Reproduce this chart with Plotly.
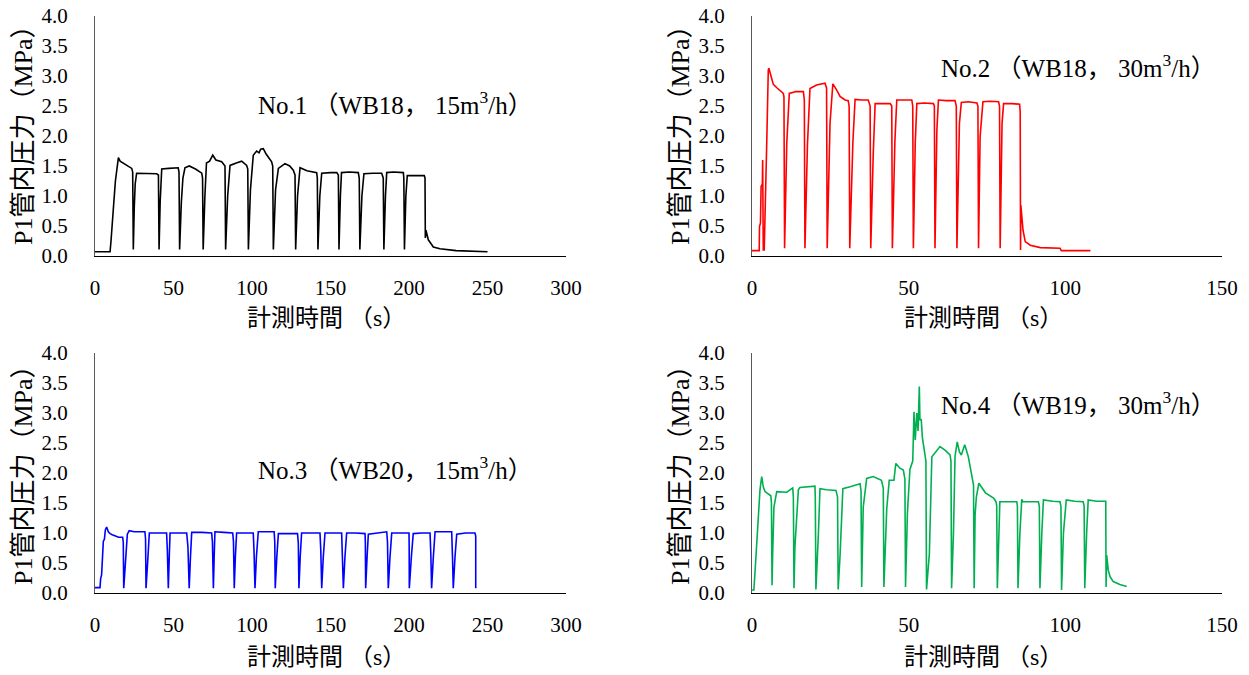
import plotly.graph_objects as go

# ---------------- data ----------------
t1 = [0, 9.6, 10.2, 11, 12, 13, 14.2, 14.9, 16, 18, 21, 23.4,
      24, 24.4, 25, 25.6, 26.5, 30, 34, 39.3,
      40.4, 40.8, 41.5, 42.5, 47, 53,
      53.5, 53.9, 55, 56, 57.3, 60, 64, 68,
      68.5, 68.9, 70, 71, 73, 75, 77, 80.7,
      82.8, 83.2, 84.5, 86, 90, 93.4, 96.6,
      97.3, 97.7, 99, 100.8, 103, 104.5, 105.5, 107.2, 109, 112.5,
      113.2, 113.6, 115, 116.8, 119, 121, 124, 126.3,
      127.4, 127.8, 129, 130.6, 135, 141.2,
      141.6, 142, 143.2, 144.4, 150, 154,
      155, 155.4, 156.3, 157, 162, 167.7,
      168.3, 168.7, 170, 171.3, 177, 182.6,
      183.6, 184, 185, 185.8, 190, 196.4,
      196.7, 197.1, 198, 198.9, 204, 209.7,
      210.2, 210.4, 210.8, 212.3, 215.5, 219.7, 230, 250]
p1 = [0.07, 0.07, 0.25, 0.6, 0.9, 1.25, 1.5, 1.64, 1.58, 1.55, 1.5, 1.46,
      1.40, 0.11, 0.8, 1.2, 1.38, 1.38, 1.37, 1.37,
      1.35, 0.11, 0.9, 1.45, 1.46, 1.47,
      1.40, 0.11, 0.9, 1.3, 1.47, 1.5, 1.45, 1.38,
      1.30, 0.11, 1.0, 1.55, 1.58, 1.68, 1.6, 1.57,
      1.50, 0.11, 1.0, 1.51, 1.55, 1.58, 1.51,
      1.45, 0.11, 1.1, 1.68, 1.75, 1.72, 1.78, 1.79, 1.7, 1.57,
      1.50, 0.11, 1.1, 1.46, 1.5, 1.54, 1.5, 1.43,
      1.35, 0.11, 1.0, 1.47, 1.42, 1.39,
      1.30, 0.11, 1.0, 1.38, 1.39, 1.39,
      1.35, 0.11, 1.0, 1.39, 1.40, 1.39,
      1.30, 0.11, 1.0, 1.37, 1.38, 1.38,
      1.30, 0.11, 1.0, 1.39, 1.40, 1.39,
      1.30, 0.11, 1.0, 1.34, 1.34, 1.34,
      1.30, 0.30, 0.43, 0.27, 0.15, 0.12, 0.09, 0.07]

t2 = [0, 2.3, 2.4, 2.7, 2.9, 3.3, 3.4, 3.5, 3.6, 3.9, 4.15, 4.7, 5.2, 5.4, 5.8, 6.3, 6.8, 8, 10,
      10.2, 10.4, 11.1, 11.9, 14, 16.4,
      16.7, 16.9, 17.7, 18.5, 20.6, 22, 23.3,
      23.8, 24, 24.9, 25.8, 27, 28.1, 29.7, 30.7,
      31, 31.2, 32.2, 32.9, 35, 37.1,
      37.7, 37.9, 38.7, 39.3, 42, 44.1,
      44.6, 44.8, 45.6, 46.2, 48, 51,
      51.3, 51.5, 52.1, 52.6, 55, 57.9,
      58.2, 58.4, 59, 59.5, 62, 64.8,
      65.2, 65.4, 66.2, 66.8, 69, 71.8,
      72.1, 72.3, 72.8, 73.7, 76, 78.7,
      79, 79.2, 79.8, 80.3, 83, 85.4,
      85.6, 85.7, 85.8, 86.5, 87.2, 88.8, 92, 98.3, 98.7, 108]
p2 = [0.09, 0.09, 0.49, 0.55, 1.16, 1.2, 1.6, 0.7, 0.1, 0.1, 0.82, 1.88, 3.1, 3.13, 3.05, 2.96, 2.86, 2.8, 2.71,
      2.65, 0.13, 1.88, 2.71, 2.74, 2.74,
      2.60, 0.13, 1.86, 2.79, 2.85, 2.86, 2.88,
      2.80, 0.13, 2.21, 2.87, 2.77, 2.66, 2.6, 2.59,
      2.50, 0.13, 1.9, 2.61, 2.6, 2.6,
      2.50, 0.13, 1.71, 2.54, 2.54, 2.54,
      2.50, 0.13, 1.9, 2.6, 2.6, 2.6,
      2.50, 0.13, 1.88, 2.54, 2.55, 2.54,
      2.50, 0.13, 2.1, 2.6, 2.59, 2.59,
      2.50, 0.13, 2.21, 2.56, 2.57, 2.55,
      2.50, 0.13, 1.99, 2.57, 2.58, 2.57,
      2.50, 0.13, 2.21, 2.54, 2.54, 2.53,
      2.40, 0.10, 0.85, 0.43, 0.24, 0.18, 0.14, 0.13, 0.09, 0.09]

t3 = [0, 3.2, 3.6, 4.2, 5.3, 6, 6.6, 7.4, 8.5, 9.6, 11, 13.8, 15, 17.6,
      18, 18.3, 19, 19.7, 20.6, 21.8, 25, 28, 31.8,
      32.2, 32.5, 33.5, 34, 34.6, 40, 45.6,
      46.1, 46.7, 47.3, 47.8, 54, 58.4,
      59.2, 60, 60.8, 61.6, 68, 74.3,
      74.8, 75.4, 75.9, 76.4, 82, 87.7,
      88.2, 88.7, 89.4, 90.2, 95, 100.8,
      101.3, 101.9, 102.8, 104, 110, 114.1,
      114.5, 114.8, 115.8, 116.8, 123, 129,
      129.5, 129.9, 130.7, 131.6, 137, 143.3,
      143.8, 144.4, 145.4, 146.5, 152, 157.1,
      157.6, 158.2, 159.2, 160.3, 166, 172,
      172.2, 172.4, 173.3, 174.1, 180, 185.8,
      186.3, 186.8, 187.9, 189, 195, 200,
      200.1, 200.2, 201.5, 202.7, 208, 213.4,
      213.9, 214.4, 215.5, 216.6, 222, 227.2,
      227.7, 228.2, 229.3, 230.4, 236, 242,
      242.5, 242.5]
p3 = [0.09, 0.09, 0.24, 0.3, 0.86, 0.9, 1.05, 1.1, 1.02, 0.99, 0.97, 0.94, 0.93, 0.93,
      0.85, 0.08, 0.35, 0.55, 0.98, 1.04, 1.02, 1.02, 1.02,
      0.90, 0.08, 0.5, 0.66, 1.0, 1.0, 1.0,
      0.70, 0.08, 0.6, 1.0, 1.0, 1.0,
      0.77, 0.08, 0.6, 1.01, 1.01, 1.0,
      0.85, 0.08, 0.6, 1.02, 1.01, 1.0,
      0.86, 0.08, 0.6, 1.0, 1.0, 1.0,
      0.69, 0.08, 0.6, 1.02, 1.02, 1.02,
      0.85, 0.08, 0.6, 0.99, 0.99, 0.99,
      0.83, 0.08, 0.6, 1.0, 1.0, 1.0,
      0.72, 0.08, 0.6, 1.0, 1.0, 1.0,
      0.58, 0.08, 0.6, 1.0, 1.0, 0.99,
      0.85, 0.08, 0.6, 0.98, 1.0, 1.02,
      0.85, 0.08, 0.6, 1.0, 1.0, 1.0,
      0.80, 0.08, 0.6, 0.99, 1.0, 1.0,
      0.65, 0.08, 0.6, 1.02, 1.02, 1.02,
      0.60, 0.08, 0.6, 0.98, 1.0, 1.0,
      0.95, 0.08]

t4 = [0, 0.6, 1, 1.5, 2, 2.55, 3.1, 3.6, 4.15, 6,
      6.2, 6.4, 6.6, 7, 7.9, 11.1, 12.1, 13,
      13.2, 13.4, 13.7, 14.8, 15.3, 18, 20.1,
      20.2, 20.4, 21.2, 21.7, 23.8, 26.8,
      27.3, 27.5, 28.1, 29, 31.3, 34.5,
      34.8, 35, 35.5, 36.6, 38.7, 41.3,
      41.9, 42.1, 43, 43.8, 45.3, 45.9, 47.2, 48.3,
      48.8, 49, 49.6, 50.4, 51.3, 51.7, 52.1, 52.6, 53, 53.4, 53.6, 54, 54.4, 55.2,
      55.5, 55.7, 56.6, 57.4, 60, 61.6, 63.2,
      63.5, 63.7, 64.3, 64.8, 65.5, 66.2, 66.8, 67.9, 69, 70.1,
      70.7, 70.9, 71.2, 71.6, 72.4, 74.5, 77.1, 77.9,
      78.1, 78.3, 78.7, 79.1, 82, 84.5,
      84.7, 84.9, 85.5, 86.1, 86.5, 91.4,
      91.7, 91.9, 92.5, 93, 96, 98.3, 98.6,
      98.8, 99.4, 100.3, 103, 105.7,
      106, 106.2, 106.8, 107.3, 110, 112.9,
      113, 113.2, 113.7, 114.3, 115.3, 117.4, 119.6]
p4 = [0.05, 0.05, 0.38, 0.83, 1.27, 1.72, 1.94, 1.77, 1.69, 1.62,
      1.50, 0.13, 0.66, 1.43, 1.69, 1.68, 1.72, 1.75,
      1.60, 0.08, 0.77, 1.72, 1.76, 1.77, 1.78,
      1.60, 0.06, 1.0, 1.74, 1.72, 1.71,
      1.60, 0.06, 0.62, 1.74, 1.77, 1.82,
      1.70, 0.10, 1.43, 1.91, 1.94, 1.88,
      1.75, 0.10, 1.4, 1.88, 1.88, 2.16, 2.08, 2.05,
      1.90, 0.10, 1.33, 2.06, 2.2, 3.02, 2.55, 3.0, 2.7, 3.44, 2.88, 2.9, 2.58, 2.33,
      2.20, 0.06, 0.65, 2.27, 2.44, 2.38, 2.3,
      2.20, 0.08, 1.0, 2.28, 2.52, 2.35, 2.3, 2.47, 2.28, 1.94,
      1.80, 0.08, 1.3, 1.6, 1.83, 1.67, 1.58, 1.52,
      1.45, 0.08, 1.0, 1.52, 1.52, 1.52,
      1.45, 0.08, 1.0, 1.56, 1.52, 1.52,
      1.45, 0.08, 1.0, 1.55, 1.53, 1.52, 1.44,
      0.05, 1.0, 1.55, 1.53, 1.52,
      1.45, 0.08, 1.0, 1.55, 1.53, 1.53,
      0.10, 0.63, 0.38, 0.27, 0.19, 0.14, 0.11]

labels = ["No.1 （WB18， 15m<sup>3</sup>/h）", "No.2 （WB18， 30m<sup>3</sup>/h）",
          "No.3 （WB20， 15m<sup>3</sup>/h）", "No.4 （WB19， 30m<sup>3</sup>/h）"]
colors = ["#000000", "#FF0000", "#0000FF", "#00B050"]
x_ranges = [300, 150, 300, 150]
y_title = "P1管内圧力（MPa）"
x_title = "計測時間 （s）"

# ---------------- layout geometry ----------------
W, H = 1249, 675
SERIF = "Liberation Serif, Times New Roman, serif"
FONT = "Liberation Serif, Noto Sans CJK JP"
px_x = [(95, 566), (752, 1222), (95, 566), (752, 1222)]
px_y = [(16, 256), (16, 256), (353, 593), (353, 593)]

fig = go.Figure()
series = [(t1, p1), (t2, p2), (t3, p3), (t4, p4)]
for i, (t, p) in enumerate(series):
    sfx = "" if i == 0 else str(i + 1)
    fig.add_trace(go.Scatter(x=t, y=p, mode="lines",
                             line=dict(color=colors[i], width=1.6),
                             xaxis="x" + sfx, yaxis="y" + sfx,
                             showlegend=False, hoverinfo="skip"))

layout = dict(width=W, height=H, margin=dict(l=0, r=0, t=0, b=0, pad=0),
              paper_bgcolor="white", plot_bgcolor="white", showlegend=False,
              font=dict(family=SERIF, size=21, color="#000000"))
annotations = []
for i in range(4):
    sfx = "" if i == 0 else str(i + 1)
    x0, x1 = px_x[i]
    y0, y1 = px_y[i]
    layout["xaxis" + sfx] = dict(
        domain=[x0 / W, x1 / W], range=[0, x_ranges[i]], dtick=50,
        anchor="y" + sfx, showline=True, linecolor="#000000", linewidth=1.2,
        showgrid=False, zeroline=False, ticks="", ticklabelstandoff=13,
        automargin=False,
        tickfont=dict(family=SERIF, size=21, color="#000000"), fixedrange=True)
    layout["yaxis" + sfx] = dict(
        domain=[1 - y1 / H, 1 - y0 / H], range=[0, 4], dtick=0.5,
        tickformat=".1f", anchor="x" + sfx, showline=True,
        linecolor="#595959", linewidth=1, showgrid=False, zeroline=False,
        ticks="", ticklabelstandoff=22, automargin=False,
        tickfont=dict(family=SERIF, size=21, color="#000000"), fixedrange=True)

# axis titles and panel labels
ytitle_pos = [(23, 129), (680, 129), (23, 469), (680, 469)]
xtitle_pos = [(326, 318), (983, 318), (326, 657), (983, 657)]
label_pos = [(395, 103), (1078, 66), (395, 468), (1078, 403)]
for i in range(4):
    xp, yp = ytitle_pos[i]
    annotations.append(dict(text=y_title, x=xp / W, y=1 - yp / H, xref="paper", yref="paper",
                            textangle=-90, showarrow=False, xanchor="center", yanchor="middle",
                            font=dict(family=FONT, size=26, color="#000000")))
    xp, yp = xtitle_pos[i]
    annotations.append(dict(text=x_title, x=xp / W, y=1 - yp / H, xref="paper", yref="paper",
                            showarrow=False, xanchor="center", yanchor="middle",
                            font=dict(family=FONT, size=24, color="#000000")))
    xp, yp = label_pos[i]
    annotations.append(dict(text=labels[i], x=xp / W, y=1 - yp / H, xref="paper", yref="paper",
                            showarrow=False, xanchor="center", yanchor="middle",
                            font=dict(family=FONT, size=25, color="#000000")))
layout["annotations"] = annotations
fig.update_layout(**layout)
fig.write_html("out.html",
               post_script="document.body.style.margin='0';document.body.style.overflow='hidden';")
